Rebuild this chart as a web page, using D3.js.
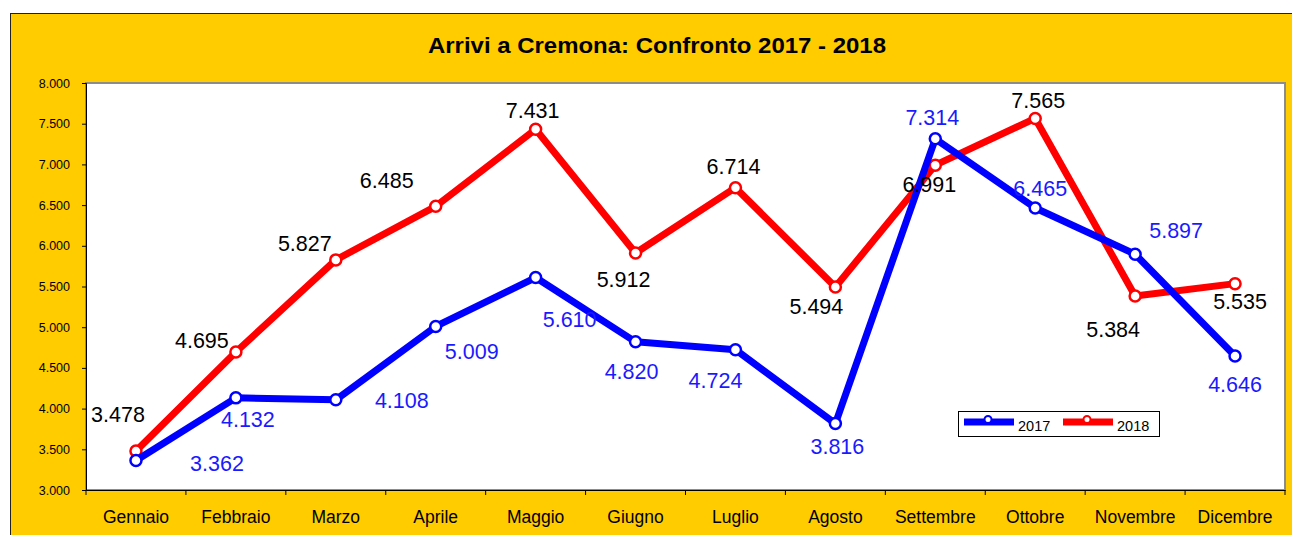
<!DOCTYPE html>
<html><head><meta charset="utf-8">
<script src="https://cdn.jsdelivr.net/npm/d3@7"></script>
<style>body{margin:0;background:#fff}svg{display:block;font-family:Arial,"Liberation Sans",sans-serif}</style>
</head><body>
<svg id="c" width="1292" height="535"></svg>
<script>
const title = "Arrivi a Cremona: Confronto 2017 - 2018";
const months = ["Gennaio","Febbraio","Marzo","Aprile","Maggio","Giugno","Luglio","Agosto","Settembre","Ottobre","Novembre","Dicembre"];
const values2017 = [3362,4132,4108,5009,5610,4820,4724,3816,7314,6465,5897,4646];
const values2018 = [3478,4695,5827,6485,7431,5912,6714,5494,6991,7565,5384,5535];
const yTicks = [3000,3500,4000,4500,5000,5500,6000,6500,7000,7500,8000];
const seriesNames = ["2017","2018"];

// label placement (offsets from the point), layout only
const labelOff2017 = [[81,3],[12,22],[66,1],[36,25],[34,42],[-4,30],[-20,31],[2,23],[-3,-21],[5,-19],[41,-24],[0,28]];
const labelOff2018 = [[-18,-37],[-34,-12],[-31,-16],[-49,-26],[-3,-19],[-12,27],[-2,-21],[-19,20],[-6,19],[3,-18],[-22,34],[5,18]];

const svg = d3.select("#c");
const fmt = v => d3.format(",")(v).replace(/,/g, ".");
const fmt3 = v => d3.format(",.0f")(v).replace(/,/g, ".");

// outer chart area
svg.append("rect").attr("x",10.5).attr("y",13.5).attr("width",1292).attr("height",530)
  .attr("fill","#FFCC00").attr("stroke","#222").attr("stroke-width",1);

const L = 86, R = 1285, T = 83, B = 490;
const x = d3.scaleBand().domain(months).range([L, R]).padding(0);
const y = d3.scaleLinear().domain([3000, 8000]).range([B, T]);

svg.append("rect").attr("x",L).attr("y",T).attr("width",R-L).attr("height",B-T)
  .attr("fill","#fff").attr("stroke","#8c8c8c").attr("stroke-width",2);

svg.append("text").attr("x",657).attr("y",53).attr("text-anchor","middle")
  .attr("font-size",22.5).attr("font-weight","bold").attr("fill","#000")
  .attr("textLength",458).attr("lengthAdjust","spacingAndGlyphs").text(title);

// y axis
const ya = svg.append("g").attr("transform",`translate(${L},0)`)
  .call(d3.axisLeft(y).tickValues(yTicks).tickFormat(fmt3).tickSize(4).tickPadding(12));
ya.select(".domain").attr("stroke","#000");
ya.selectAll("line").attr("stroke","#000");
ya.selectAll("text").attr("font-size",12.5).attr("fill","#000").attr("font-family","Arial, Liberation Sans, sans-serif");

// x axis
const xa = svg.append("g").attr("transform",`translate(0,${B})`)
  .call(d3.axisBottom(x).tickSize(0).tickPadding(21));
xa.select(".domain").attr("stroke","#000");
xa.selectAll("text").attr("font-size",17.5).attr("fill","#000").attr("font-family","Arial, Liberation Sans, sans-serif");
svg.append("g").selectAll("line").data(months.concat(["_end"])).join("line")
  .attr("x1",(d,i)=>L + i*x.bandwidth()).attr("x2",(d,i)=>L + i*x.bandwidth())
  .attr("y1",B).attr("y2",B+5).attr("stroke","#000");

const cx = m => x(m) + x.bandwidth()/2;
const line = d3.line().x((d,i)=>cx(months[i])).y(d=>y(d));

function series(vals, color){
  const g = svg.append("g");
  g.append("path").datum(vals).attr("d",line).attr("fill","none")
    .attr("stroke",color).attr("stroke-width",7).attr("stroke-linejoin","round");
  g.selectAll("circle").data(vals).join("circle")
    .attr("cx",(d,i)=>cx(months[i])).attr("cy",d=>y(d)).attr("r",5.5)
    .attr("fill","#fff").attr("stroke",color).attr("stroke-width",2.5);
  return g;
}
function labels(vals, labelColor, offs){
  svg.append("g").selectAll("text").data(vals).join("text")
    .attr("x",(d,i)=>cx(months[i]) + offs[i][0]).attr("y",(d,i)=>y(d) + offs[i][1] + 7.5)
    .attr("text-anchor","middle").attr("font-size",21.5).attr("fill",labelColor).text(d=>fmt(d));
}
series(values2018, "#FF0000");
series(values2017, "#0000FF");
labels(values2017, "#1a1aff", labelOff2017);
labels(values2018, "#000", labelOff2018);

// legend
const lg = svg.append("g");
lg.append("rect").attr("x",958.5).attr("y",411.5).attr("width",201).attr("height",25)
  .attr("fill","#fff").attr("stroke","#000").attr("stroke-width",1);
[["#0000FF",964],["#FF0000",1063]].forEach(([c,lx],i)=>{
  lg.append("line").attr("x1",lx).attr("x2",lx+50).attr("y1",422).attr("y2",422)
    .attr("stroke",c).attr("stroke-width",7);
  lg.append("circle").attr("cx",lx+24).attr("cy",419.5).attr("r",3.5).attr("fill","#fff").attr("stroke",c).attr("stroke-width",2);
  lg.append("text").attr("x",lx+54).attr("y",431).attr("font-size",14.5).attr("fill","#000").text(seriesNames[i]);
});
</script>
</body></html>
